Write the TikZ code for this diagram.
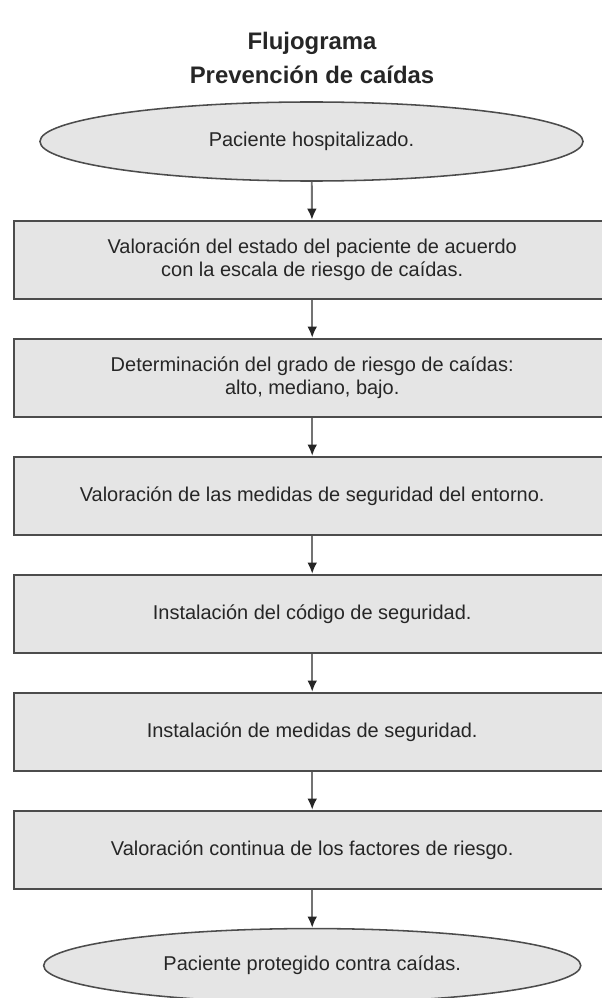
\documentclass[tikz,border=0pt]{standalone}
\usepackage{fontspec}
\setmainfont{Liberation Sans}
\usetikzlibrary{positioning, shapes.geometric, arrows.meta}

\begin{document}
\begin{tikzpicture}[x=0.025cm, y=-0.025cm, node distance = 0.95cm]
        \def\colorline{black!70}
        \def\colorfill{black!10}
        \tikzset{titletext/.style={
                align=center,
                font=\fontsize{17}{20}\selectfont\bfseries,
                text=black!85
        }}
        \tikzset{terminal/.style={ellipse,
                draw = \colorline,
                line width = 1.1pt,
                fill = \colorfill,
                align=center,
                inner sep = 0pt,
                minimum width = 13.575cm,
                minimum height = 1.975cm,
                font=\fontsize{14.2}{16.4}\selectfont,
                text=black!85
        }}
        \tikzset{process/.style={rectangle,
                draw = \colorline,
                line width = 1.4pt,
                fill = \colorfill,
                align=center,
                minimum width = 14.9cm,
                minimum height = 1.95cm,
                font=\fontsize{14.2}{16.4}\selectfont,
                text=black!85
        }}
        \tikzset{connector/.style={-{Latex[length=8pt,width=7pt,color=black!85]}, line width=1.4pt, draw=black!55}}

        \useasboundingbox (0,0) rectangle (601,998);

        \node[titletext] (title) at (312,43) {Flujograma};
        \node[titletext] (subtitle) at (312,75) {Prevención de caídas};

        \node[terminal] (ingreso) at (311.5,141.5) {Paciente hospitalizado.};
        \node[process, below=of ingreso.south, anchor=north, xshift=0.5pt] (valoracion) {Valoración del estado del paciente de acuerdo\\ con la escala de riesgo de caídas.};
        \node[process, below=of valoracion] (grado) {Determinación del grado de riesgo de caídas:\\ alto, mediano, bajo.};
        \node[process, below=of grado] (entorno) {Valoración de las medidas de seguridad del entorno.};
        \node[process, below=of entorno] (codigo) {Instalación del código de seguridad.};
        \node[process, below=of codigo] (medidas) {Instalación de medidas de seguridad.};
        \node[process, below=of medidas] (continua) {Valoración continua de los factores de riesgo.};
        \node[terminal, below=of continua, minimum width = 13.425cm, minimum height = 1.85cm] (protegido) {Paciente protegido contra caídas.};

        \draw[connector] (ingreso) -- (valoracion);
        \draw[connector] (valoracion) -- (grado);
        \draw[connector] (grado) -- (entorno);
        \draw[connector] (entorno) -- (codigo);
        \draw[connector] (codigo) -- (medidas);
        \draw[connector] (medidas) -- (continua);
        \draw[connector] (continua) -- (protegido);
\end{tikzpicture}
\end{document}
